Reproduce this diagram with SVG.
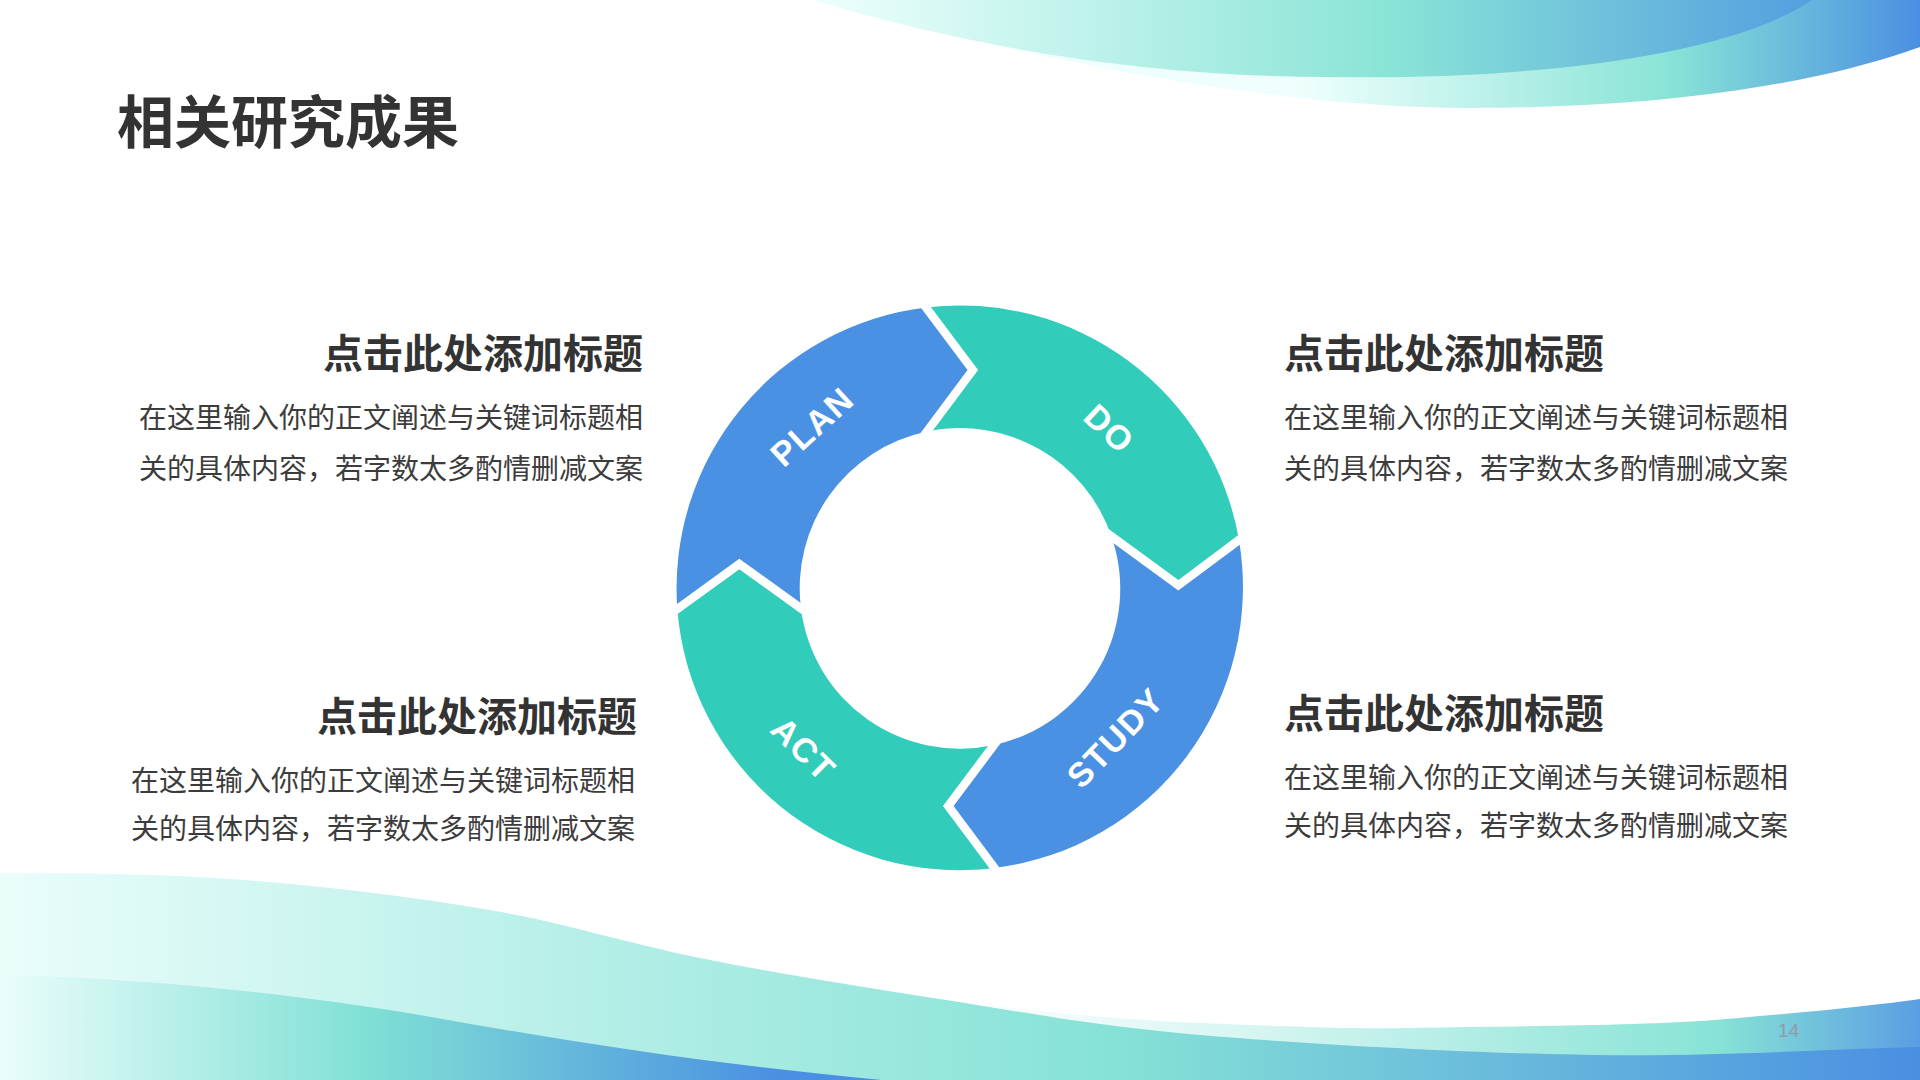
<svg xmlns="http://www.w3.org/2000/svg" width="1920" height="1080" viewBox="0 0 1920 1080">
  <defs>
    <linearGradient id="gTop1" gradientUnits="userSpaceOnUse" x1="812" y1="0" x2="1900" y2="0">
      <stop offset="0" stop-color="#EEFFFD"/>
      <stop offset="0.54" stop-color="#88E3D6"/>
      <stop offset="1" stop-color="#4A8FE2"/>
    </linearGradient>
    <linearGradient id="gTop2" gradientUnits="userSpaceOnUse" x1="1300" y1="0" x2="1920" y2="0">
      <stop offset="0" stop-color="#EEFFFD"/>
      <stop offset="0.6" stop-color="#88E3D6"/>
      <stop offset="1" stop-color="#4A8FE2"/>
    </linearGradient>
    <linearGradient id="gB1" gradientUnits="userSpaceOnUse" x1="0" y1="0" x2="1920" y2="0">
      <stop offset="0" stop-color="#EAFDFB"/>
      <stop offset="0.58" stop-color="#86E2D6"/>
      <stop offset="1" stop-color="#4A8FE2"/>
    </linearGradient>
    <linearGradient id="gB2" gradientUnits="userSpaceOnUse" x1="950" y1="0" x2="1920" y2="0">
      <stop offset="0" stop-color="#FFFFFF"/>
      <stop offset="0.3" stop-color="#D8F6F2"/>
      <stop offset="0.79" stop-color="#88E3D6"/>
      <stop offset="1" stop-color="#5A9EE2"/>
    </linearGradient>
    <linearGradient id="gB3" gradientUnits="userSpaceOnUse" x1="0" y1="0" x2="780" y2="0">
      <stop offset="0" stop-color="#EAFDFB"/>
      <stop offset="0.47" stop-color="#80E0D5"/>
      <stop offset="1" stop-color="#4A8FE2"/>
    </linearGradient>
    <style>
      .blue { fill: #4A91E3; }
      .teal { fill: #32CCBA; }
      .sep { fill: none; stroke: #FFFFFF; stroke-width: 8.5; stroke-linejoin: miter; }
      .lbl { font-family: "Liberation Sans", Arial, sans-serif; font-weight: 700; font-size: 34px; fill: #FFFFFF; text-anchor: middle; letter-spacing: 1.5px; }
      .title { font-family: "Noto Sans CJK SC", sans-serif; font-weight: 700; font-size: 57px; fill: #333333; }
      .head { font-family: "Noto Sans CJK SC", sans-serif; font-weight: 700; font-size: 40px; fill: #333333; }
      .body { font-family: "Noto Sans CJK SC", sans-serif; font-weight: 400; font-size: 28px; fill: #3C3C3C; }
      .end { text-anchor: end; }
      .pg { font-family: "Liberation Sans", Arial, sans-serif; font-size: 19px; fill: #8E9BA8; }
    </style>
  </defs>

  <rect width="1920" height="1080" fill="#FFFFFF"/>

  <g id="top-waves">
    <path fill="url(#gTop2)" d="M950,0 L950,34 C1100,72 1300,108 1471,108 C1680,108 1830,80 1920,47 L1920,0 Z"/>
    <path fill="url(#gTop1)" d="M812,0 Q1071,77 1330,77 C1500,80 1720,62 1812,0 Z"/>
  </g>

  <g id="bottom-waves">
    <path fill="url(#gB2)" d="M930,997 C990,1006 1100,1019 1200,1023 C1300,1027 1350,1029 1408,1028 C1550,1026 1650,1025 1714,1020 C1800,1013 1870,1006 1920,999 L1920,1080 L930,1080 Z"/>
    <path fill="url(#gB1)" d="M0,873 C81.7,873 163.3,873.8 245,880 C326.7,886.2 414.2,897 490,910 C565.8,923 626.2,943.3 700,958 C773.8,972.7 849.7,985.2 933,998 C1016.3,1010.8 1090.2,1025.5 1200,1035 C1309.8,1044.5 1472,1053 1592,1055 C1712,1057 1810.7,1049.7 1920,1047 L1920,1080 L0,1080 Z"/>
    <path fill="url(#gB3)" d="M0,975 C150,978 300,995 420,1015 C560,1040 700,1063 882,1080 L0,1080 Z"/>
  </g>

  <text class="title" x="117" y="143">相关研究成果</text>

  <g id="node-plan">
    <path class="blue" d="M677.3,609 A283,283 0 0 1 926,307.5 L972.8,370 L927,431.5 A160,160 0 0 0 801,608.5 L739.3,564 Z"/>
    <text class="lbl" transform="translate(812,426.5) rotate(-42.4)" x="0" y="12">PLAN</text>
  </g>
  <g id="node-do">
    <path class="teal" d="M926,307.5 A283,283 0 0 1 1239,540 L1178.3,585.3 L1111.5,536.4 A160,160 0 0 0 927,431.5 L972.8,370 Z"/>
    <text class="lbl" transform="translate(1109.3,428.7) rotate(43.1)" x="0" y="12">DO</text>
  </g>
  <g id="node-study">
    <path class="blue" d="M1239,540 A283,283 0 0 1 994.5,868 L948.3,806 L994,745 A160,160 0 0 0 1111.5,536.4 L1178.3,585.3 Z"/>
    <text class="lbl" transform="translate(1115.4,737.8) rotate(-46.1)" x="0" y="12">STUDY</text>
  </g>
  <g id="node-act">
    <path class="teal" d="M994.5,868 A283,283 0 0 1 677.3,609 L739.3,564 L801,608.5 A160,160 0 0 0 994,745 L948.3,806 Z"/>
    <text class="lbl" transform="translate(803.5,748.9) rotate(44.8)" x="0" y="12">ACT</text>
  </g>

  <g id="connectors">
    <polyline class="sep" points="920,299.5 972.8,370 921,439.5"/>
    <polyline class="sep" points="1247,534 1178.3,585.3 1103.4,530.5"/>
    <polyline class="sep" points="1000.5,876 948.3,806 1000,737"/>
    <polyline class="sep" points="669.2,614.9 739.3,564 809.1,614.3"/>
  </g>

  <g id="text-top-left">
    <text class="head end" x="643" y="368">点击此处添加标题</text>
    <text class="body" x="139" y="428">在这里输入你的正文阐述与关键词标题相</text>
    <text class="body" x="139" y="479">关的具体内容，若字数太多酌情删减文案</text>
  </g>
  <g id="text-top-right">
    <text class="head" x="1284" y="368">点击此处添加标题</text>
    <text class="body" x="1284" y="428">在这里输入你的正文阐述与关键词标题相</text>
    <text class="body" x="1284" y="479">关的具体内容，若字数太多酌情删减文案</text>
  </g>
  <g id="text-bottom-left">
    <text class="head end" x="637" y="731">点击此处添加标题</text>
    <text class="body" x="131" y="791">在这里输入你的正文阐述与关键词标题相</text>
    <text class="body" x="131" y="839">关的具体内容，若字数太多酌情删减文案</text>
  </g>
  <g id="text-bottom-right">
    <text class="head" x="1284" y="728">点击此处添加标题</text>
    <text class="body" x="1284" y="788">在这里输入你的正文阐述与关键词标题相</text>
    <text class="body" x="1284" y="836">关的具体内容，若字数太多酌情删减文案</text>
  </g>

  <text class="pg" x="1778" y="1037">14</text>
</svg>
